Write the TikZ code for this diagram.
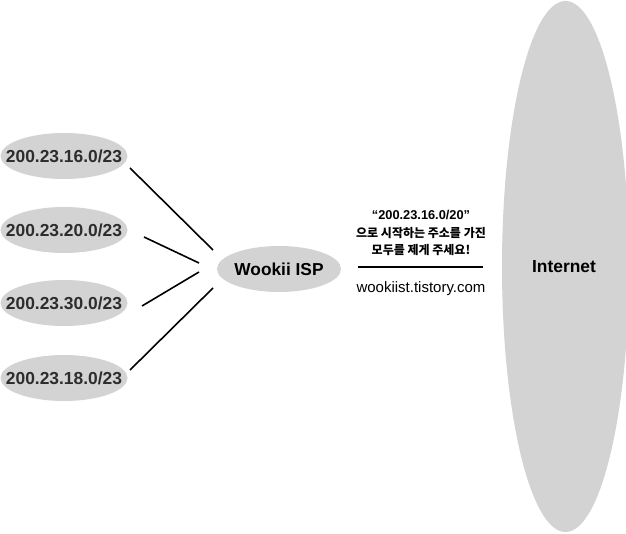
\documentclass[tikz,border=0pt]{standalone}
\usepackage{fontspec}
\setmainfont{Liberation Sans}
\newfontfamily\kr{Noto Sans CJK KR}
\usetikzlibrary{shapes.geometric}
\definecolor{ellgray}{RGB}{211,211,211}
\definecolor{labtext}{RGB}{45,45,45}
\tikzset{
  net/.style={ellipse, fill=ellgray, inner sep=0pt, font=\fontsize{17.4}{18}\selectfont\bfseries},
  sub/.style={net, text=labtext, minimum width=127, minimum height=46},
  link/.style={line width=1.6pt, black},
}
\newcommand{\zw}[1]{\makebox[0pt]{#1}}
\begin{document}
\begin{tikzpicture}[x=1pt,y=-1pt]
\useasboundingbox (0,0) rectangle (626,534);
\node[sub] (a) at (64,156) {\zw{200.23.16.0/23}};
\node[sub] (b) at (64,230) {\zw{200.23.20.0/23}};
\node[sub] (c) at (64,303) {\zw{200.23.30.0/23}};
\node[sub] (d) at (64,378) {\zw{200.23.18.0/23}};
\node[net, minimum width=124, minimum height=46, font=\fontsize{17.3}{18}\selectfont\bfseries] (isp) at (279,269) {\zw{Wookii ISP}};
\node[net, minimum width=127, minimum height=531] (inet) at (565.5,266.5) {\zw{\hspace{-3pt}Internet}};
\coordinate (a1) at (130,168); \coordinate (a2) at (213,250);
\coordinate (b1) at (144,237); \coordinate (b2) at (199,263);
\coordinate (c1) at (142,306); \coordinate (c2) at (199,272);
\coordinate (d1) at (130,370); \coordinate (d2) at (213,288);
\draw[link] (a1) -- (a2);
\draw[link] (b1) -- (b2);
\draw[link] (c1) -- (c2);
\draw[link] (d1) -- (d2);
\node[font=\fontsize{12.8}{14}\selectfont\bfseries] (q) at (421,215) {“200.23.16.0/20”};
\node[font=\fontsize{12}{14}\selectfont\kr\bfseries] (k1) at (421,233) {으로 시작하는 주소를 가진};
\node[font=\fontsize{12}{14}\selectfont\kr\bfseries] (k2) at (421,250) {모두를 제게 주세요!};
\coordinate (h1) at (358,267); \coordinate (h2) at (483,267);
\draw[link] (h1) -- (h2);
\node[font=\fontsize{15}{17}\selectfont] (url) at (421,289) {wookiist.tistory.com};
\end{tikzpicture}
\end{document}
